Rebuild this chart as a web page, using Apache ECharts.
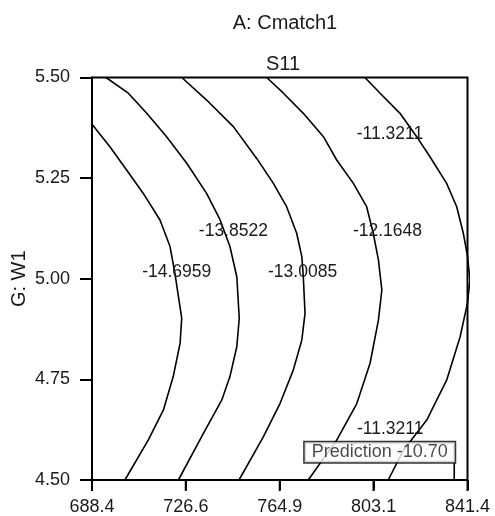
<!DOCTYPE html>
<html>
<head>
<meta charset="utf-8">
<script src="https://cdn.jsdelivr.net/npm/echarts@6/dist/echarts.min.js"></script>
<style>
html,body{margin:0;padding:0;background:#fff;}
#chart{width:495px;height:516px;}
</style>
</head>
<body>
<div id="chart"></div>
<script>
// ---- data ----
const xTicks = [688.4, 726.6, 764.9, 803.1, 841.4];
const yTicks = [4.50, 4.75, 5.00, 5.25, 5.50];
const levels = [-14.6959, -13.8522, -13.0085, -12.1648, -11.3211];

const contour1 = [[688.4,5.384],[695.7,5.328],[702.5,5.270],[709.3,5.212],[716.1,5.146],[720.2,5.080],[722.2,5.013],[724.95,4.902],[724.3,4.840],[721.5,4.757],[717.5,4.674],[711.3,4.599],[701.8,4.50]];
const contour2 = [[694.1,5.50],[703.2,5.461],[710.7,5.411],[718.8,5.353],[727.0,5.287],[735.1,5.212],[740.6,5.146],[744.6,5.080],[747.4,5.005],[748.4,4.902],[747.4,4.831],[744.6,4.757],[741.3,4.699],[733.8,4.616],[723.6,4.50]];
const contour3 = [[725.0,5.50],[735.1,5.444],[746.0,5.378],[755.5,5.299],[762.3,5.237],[767.7,5.179],[771.8,5.113],[773.9,5.055],[774.5,5.005],[775.2,4.914],[773.9,4.848],[770.4,4.773],[765.0,4.690],[758.2,4.607],[748.3,4.50]];
const contour4 = [[759.6,5.50],[766.4,5.461],[774.5,5.411],[782.7,5.353],[788.1,5.295],[794.9,5.237],[800.3,5.179],[803.0,5.113],[805.1,5.047],[806.5,4.972],[805.1,4.897],[801.7,4.790],[796.3,4.690],[788.1,4.599],[776.5,4.50]];
const contour5 = [[799.6,5.50],[805.8,5.461],[813.9,5.411],[820.7,5.353],[826.1,5.303],[832.9,5.237],[837.0,5.179],[839.7,5.113],[841.4,5.056],[842.4,4.997],[841.4,4.940],[838.4,4.856],[832.9,4.748],[824.8,4.649],[815.3,4.574],[809.1,4.50]];

const labelPoints = [[722.9,5.016],[746.0,5.119],[774.2,5.017],[808.8,5.117],[809.8,5.360],[809.9,4.627]];
const labelLevelIndex = [0,1,2,3,4,4];

const predX = 836.0;
const predY = 4.50;
const predBoxY = 4.543;
const predValue = -10.70;

// ---- chart ----
const FONT = '"Liberation Sans", Arial, sans-serif';
const TXT = '#1a1a1a';
const chart = echarts.init(document.getElementById('chart'), null, {renderer:'canvas'});

const xMin = xTicks[0], xMax = xTicks[xTicks.length - 1];
const xStep = (xMax - xMin) / (xTicks.length - 1);
function nearestTick(v) {
  let best = xTicks[0];
  xTicks.forEach(t => { if (Math.abs(t - v) < Math.abs(best - v)) best = t; });
  return best.toFixed(1);
}

const contours = [contour1, contour2, contour3, contour4, contour5];
const series = contours.map((c, i) => ({
  type: 'line',
  name: String(levels[i]),
  data: c,
  symbol: 'none',
  clip: true,
  silent: true,
  lineStyle: {color: '#000', width: 1.6},
  z: 2
}));

series.push({
  type: 'scatter',
  data: labelPoints.map((p, i) => ({value: p, label: {formatter: levels[labelLevelIndex[i]].toFixed(4)}})),
  symbolSize: 1,
  itemStyle: {color: 'rgba(0,0,0,0)'},
  silent: true,
  label: {show: true, position: 'inside', fontSize: 17.5, color: TXT, fontFamily: FONT,
          textBorderWidth: 0, textBorderColor: 'transparent', opacity: 1},
  z: 5
});

series.push({
  type: 'line',
  data: [[predX, predY], [predX, predBoxY]],
  symbol: 'none',
  silent: true,
  lineStyle: {color: '#000', width: 1.6},
  z: 3
});

series.push({
  type: 'scatter',
  data: [[predX, predBoxY]],
  symbolSize: 1,
  itemStyle: {color: 'rgba(0,0,0,0)'},
  silent: true,
  label: {
    show: true,
    position: [1, 0],
    align: 'right',
    verticalAlign: 'bottom',
    formatter: 'Prediction ' + predValue.toFixed(2),
    fontSize: 18,
    lineHeight: 18,
    color: TXT,
    fontFamily: FONT,
    textBorderWidth: 0,
    backgroundColor: '#fff',
    borderColor: '#000',
    borderWidth: 1.5,
    padding: [1, 7, 1, 7]
  },
  z: 6
});

chart.setOption({
  animation: false,
  backgroundColor: '#fff',
  title: [
    {text: 'A: Cmatch1', left: 280, top: 8, textAlign: 'center',
     textStyle: {fontSize: 20, fontWeight: 'normal', color: TXT, fontFamily: FONT}},
    {text: 'S11', left: 278, top: 49, textAlign: 'center',
     textStyle: {fontSize: 20, fontWeight: 'normal', color: TXT, fontFamily: FONT}}
  ],
  grid: {left: 92, right: 27.5, top: 77.5, bottom: 36, show: true, borderColor: '#000', borderWidth: 2, backgroundColor: 'rgba(0,0,0,0)', containLabel: false, outerBoundsMode: 'none'},
  xAxis: {
    type: 'value', min: xMin, max: xMax, interval: xStep,
    splitLine: {show: false},
    axisLine: {show: true, onZero: false, lineStyle: {color: '#000', width: 2}},
    axisTick: {show: true, inside: false, length: 10, lineStyle: {color: '#000', width: 2}},
    axisLabel: {show: true, inside: false, margin: 18, fontSize: 18, color: TXT, fontFamily: FONT,
      formatter: v => nearestTick(v), showMinLabel: true, showMaxLabel: true, hideOverlap: false}
  },
  yAxis: {
    type: 'value', min: 4.5, max: 5.5, interval: 0.25,
    name: 'G: W1', nameLocation: 'middle', nameRotate: 90, nameGap: 63, nameMoveOverlap: false,
    nameTextStyle: {fontSize: 20, color: TXT, fontFamily: FONT},
    splitLine: {show: false},
    axisLine: {show: true, onZero: false, lineStyle: {color: '#000', width: 2}},
    axisTick: {show: true, inside: false, length: 12, lineStyle: {color: '#000', width: 2}},
    axisLabel: {show: true, inside: false, margin: 22, fontSize: 18, color: TXT, fontFamily: FONT,
      formatter: v => v.toFixed(2), showMinLabel: true, showMaxLabel: true}
  },
  series: series
});

// outward x-axis ticks, placed through the chart's own x scale
const tickGraphics = xTicks.map(t => {
  const p = chart.convertToPixel({gridIndex: 0}, [t, yTicks[0]]);
  return {
    type: 'line', silent: true, z: 100,
    shape: {x1: p[0], y1: p[1], x2: p[0], y2: p[1] + 11},
    style: {stroke: '#000', lineWidth: 2}
  };
});
chart.setOption({graphic: tickGraphics});
</script>
</body>
</html>
